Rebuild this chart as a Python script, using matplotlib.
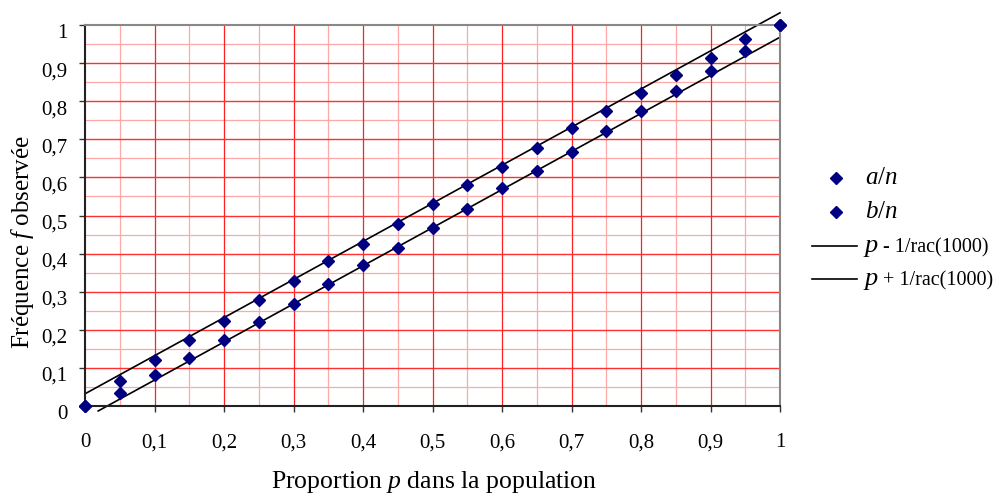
import numpy as np
import matplotlib
matplotlib.use("Agg")
import matplotlib.pyplot as plt
from matplotlib.lines import Line2D
from matplotlib.transforms import ScaledTranslation

plt.rcParams['font.family'] = ['Liberation Serif', 'DejaVu Serif']
plt.rcParams['mathtext.fontset'] = 'custom'
plt.rcParams['mathtext.rm'] = 'Liberation Serif'
plt.rcParams['mathtext.it'] = 'Liberation Serif:italic'

# ---- data ----
p_values = [0, 0.05, 0.1, 0.15, 0.2, 0.25, 0.3, 0.35, 0.4, 0.45, 0.5,
            0.55, 0.6, 0.65, 0.7, 0.75, 0.8, 0.85, 0.9, 0.95, 1.0]
a_over_n = [0, 0.065, 0.12, 0.172, 0.222, 0.277, 0.328, 0.38, 0.426, 0.477, 0.529,
            0.581, 0.626, 0.677, 0.729, 0.774, 0.822, 0.868, 0.914, 0.962, 1.0]
b_over_n = [0, 0.035, 0.082, 0.127, 0.174, 0.22, 0.269, 0.319, 0.37, 0.416, 0.467,
            0.518, 0.571, 0.617, 0.667, 0.721, 0.774, 0.827, 0.878, 0.932, 1.0]
lower_x = [0.019, 1.0]
lower_y = [-0.013, 0.968]
upper_x = [0.0, 1.0]
upper_y = [0.032, 1.032]
tick_vals = [0, 0.1, 0.2, 0.3, 0.4, 0.5, 0.6, 0.7, 0.8, 0.9, 1.0]
tick_labels = ['0', '0,1', '0,2', '0,3', '0,4', '0,5', '0,6', '0,7', '0,8', '0,9', '1']
minor_vals = [0.05, 0.15, 0.25, 0.35, 0.45, 0.55, 0.65, 0.75, 0.85, 0.95]

W, H = 997, 496
fig = plt.figure(figsize=(W / 100, H / 100), dpi=100)
ax = fig.add_axes([85 / W, 1 - 406 / H, 695 / W, 381 / H])

ax.set_xlim(0, 1)
ax.set_ylim(0, 1)

# grid
for v in minor_vals:
    ax.axvline(v, color='#ffa8a8', lw=0.9, zorder=0)
    ax.axhline(v, color='#ffa8a8', lw=0.9, zorder=0)
for v in tick_vals[1:-1]:
    ax.axvline(v, color='#ff2020', lw=0.9, zorder=0.5)
    ax.axhline(v, color='#ff3030', lw=1.0, zorder=0.5)

ax.plot(lower_x, lower_y, color='black', lw=1.2, clip_on=False, zorder=2)
ax.plot(upper_x, upper_y, color='black', lw=1.2, clip_on=False, zorder=2)
ax.plot(p_values, a_over_n, ls='none', marker='D', ms=6.5, color='#000080',
        clip_on=False, zorder=3)
ax.plot(p_values, b_over_n, ls='none', marker='D', ms=6.5, color='#000080',
        clip_on=False, zorder=3)

ax.set_xticks(tick_vals)
ax.set_xticklabels(tick_labels)
ax.set_yticks(tick_vals)
ax.set_yticklabels(tick_labels)
ax.tick_params(axis='both', direction='out', length=4.5, width=1, labelsize=15,
               color='#333333')
ax.tick_params(axis='x', pad=15)
ax.tick_params(axis='y', pad=8)
off = ScaledTranslation(0, -6 / 100, fig.dpi_scale_trans)
for lab in ax.get_yticklabels():
    lab.set_transform(lab.get_transform() + off)

for s in ['left', 'bottom']:
    ax.spines[s].set_color('#222222')
    ax.spines[s].set_linewidth(1.5)
for s in ['top', 'right']:
    ax.spines[s].set_color('#888888')
    ax.spines[s].set_linewidth(1.5)

fig.text(434 / W, 1 - 482 / H, r'Proportion $p$ dans la population',
         ha='center', va='center', fontsize=18.5)
fig.text(22 / W, 1 - 242 / H, r'Fréquence $f$ observée', rotation=90,
         ha='center', va='center', fontsize=18)

# manual legend
def fx(px):
    return px / W

def fy(py):
    return 1 - py / H

leg_marker_y = [178, 212]
leg_marker_labels = [r'$a$/$n$', r'$b$/$n$']
for yy, lab in zip(leg_marker_y, leg_marker_labels):
    fig.add_artist(Line2D([fx(836)], [fy(yy)], marker='D', ms=6.5, color='#000080',
                          ls='none'))
    fig.text(fx(865), fy(yy), lab, fontsize=18, va='center', ha='left')

leg_line_y = [246, 279]
leg_line_rest = [' - 1/rac(1000)', ' + 1/rac(1000)']
fig.canvas.draw()
r = fig.canvas.get_renderer()
for yy, rest in zip(leg_line_y, leg_line_rest):
    fig.add_artist(Line2D([fx(812), fx(857)], [fy(yy), fy(yy)], color='black', lw=1.2))
    t = fig.text(fx(865), fy(yy + 6), 'p', fontsize=19, fontstyle='italic',
                 va='baseline', ha='left')
    bb = t.get_window_extent(renderer=r)
    fig.text(bb.x1 / W, fy(yy + 6), rest, fontsize=14.5, va='baseline', ha='left')

fig.savefig('out.png', dpi=100)
